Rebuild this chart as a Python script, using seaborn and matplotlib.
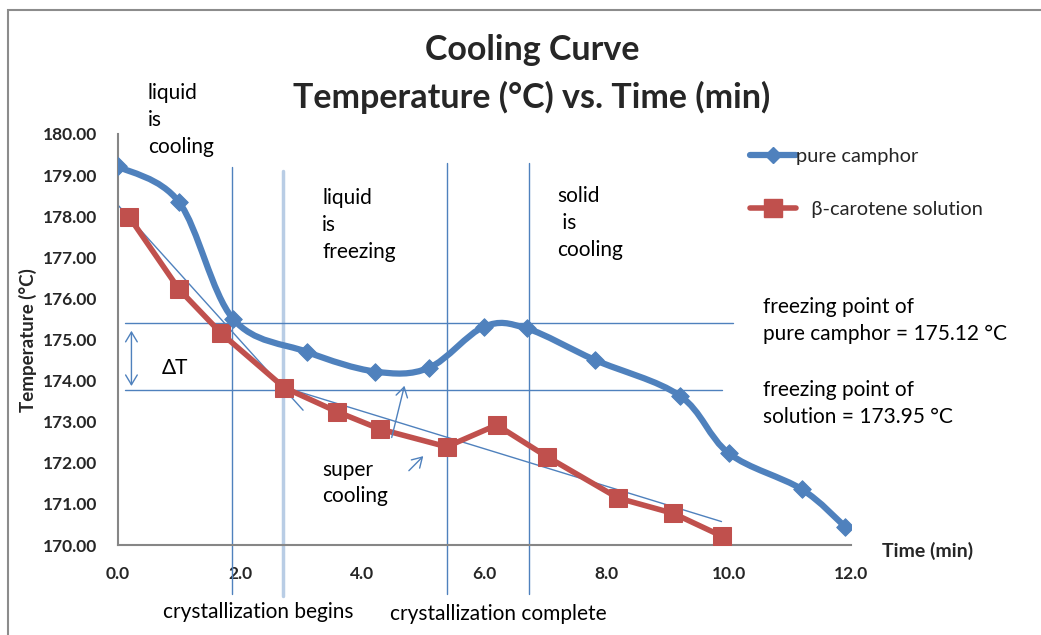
import numpy as np
import pandas as pd
import matplotlib
matplotlib.use("Agg")
import matplotlib.pyplot as plt
import seaborn as sns
from matplotlib.path import Path
from matplotlib.patches import PathPatch, Rectangle
from matplotlib.lines import Line2D

# Data
camphor_time = [0.0, 1.0, 1.88, 3.09, 4.21, 5.09, 5.99, 6.69, 7.81, 9.20, 10.0, 11.19, 11.90]
camphor_temp = [179.21, 178.34, 175.51, 174.70, 174.22, 174.31, 175.31, 175.27, 174.50, 173.63, 172.23, 171.36, 170.45]

carotene_time = [0.18, 1.0, 1.69, 2.72, 3.59, 4.29, 5.38, 6.20, 7.02, 8.19, 9.09, 9.88]
carotene_temp = [177.99, 176.22, 175.15, 173.83, 173.24, 172.82, 172.39, 172.92, 172.15, 171.14, 170.77, 170.22]

# guide lines drawn on the chart
fp_camphor_line = 175.40
fp_solution_line = 173.77
region_lines = [1.87, 5.39, 6.73]
crystal_start = 2.70
tangent_a = ([0.0, 3.03], [178.27, 173.28])
tangent_b = ([2.65, 9.88], [173.87, 170.57])

BLUE = "#4F81BD"
RED = "#C0504D"
LIGHT = "#B9CDE5"
GREY = "#868686"

sns.set_style("white")
plt.rcParams["font.family"] = ["Lato", "DejaVu Sans"]

fig = plt.figure(figsize=(10.41, 6.35), dpi=100)
ax = fig.add_axes([118 / 1041, 1 - 545 / 635, 733 / 1041, 411 / 635])

# outer chart frame (only top and left edges fall inside the picture)
fig.patches.append(Rectangle((8 / 1041, -0.1), 1.2, 1 - 10 / 635 + 0.1, transform=fig.transFigure,
                             fill=False, edgecolor="#8c8c8c", lw=1.5))


def smooth_path(xs, ys):
    # Bezier segments like a spreadsheet "smoothed line"
    pts = np.column_stack([xs, ys])
    verts = [pts[0]]
    codes = [Path.MOVETO]
    n = len(pts)
    for i in range(n - 1):
        p0 = pts[i - 1] if i > 0 else pts[i]
        p1, p2 = pts[i], pts[i + 1]
        p3 = pts[i + 2] if i + 2 < n else pts[i + 1]
        verts += [p1 + (p2 - p0) / 6, p2 - (p3 - p1) / 6, p2]
        codes += [Path.CURVE4] * 3
    return Path(verts, codes)


# guide lines
for xv in region_lines:
    ax.plot([xv, xv], [179.2 if xv < 3 else 179.3, 168.8], color=BLUE, lw=1, clip_on=False, zorder=1)
ax.plot([crystal_start, crystal_start], [179.1, 168.75], color=LIGHT, lw=2.5, clip_on=False, zorder=1)
ax.plot([0.11, 10.07], [fp_camphor_line] * 2, color=BLUE, lw=1, zorder=1)
ax.plot([0.11, 9.89], [fp_solution_line] * 2, color=BLUE, lw=1, zorder=1)
ax.plot(*tangent_a, color=BLUE, lw=1, zorder=1)
ax.plot(*tangent_b, color=BLUE, lw=1, zorder=1)

# series
df_c = pd.DataFrame({"time": camphor_time, "temp": camphor_temp})
df_b = pd.DataFrame({"time": carotene_time, "temp": carotene_temp})

ax.add_patch(PathPatch(smooth_path(camphor_time, camphor_temp), fill=False,
                       edgecolor=BLUE, lw=4.5, zorder=3, capstyle="round", joinstyle="round"))
sns.scatterplot(data=df_c, x="time", y="temp", marker="D", s=80, color=BLUE,
                edgecolor=BLUE, ax=ax, zorder=4)
sns.lineplot(data=df_b, x="time", y="temp", color=RED, lw=4, marker="s", markersize=13,
             markeredgecolor=RED, ax=ax, zorder=3, sort=False)

# arrows
arrow_kw = dict(color=BLUE, lw=1, mutation_scale=14)
ax.annotate("", xy=(0.22, 175.28), xytext=(0.22, 173.80),
            arrowprops=dict(arrowstyle="<->,head_length=0.5,head_width=0.3", **arrow_kw))
ax.annotate("", xy=(4.70, 173.94), xytext=(4.47, 172.55),
            arrowprops=dict(arrowstyle="->,head_length=0.5,head_width=0.3", **arrow_kw))
ax.annotate("", xy=(5.03, 172.21), xytext=(4.73, 171.76),
            arrowprops=dict(arrowstyle="->,head_length=0.5,head_width=0.3", **arrow_kw))

ax.set_xlim(0, 12)
ax.set_ylim(170, 180)
ax.set_xticks(np.arange(0, 12.1, 2))
ax.set_xticklabels([f"{v:.1f}" for v in np.arange(0, 12.1, 2)])
ax.set_yticks(np.arange(170, 180.1, 1))
ax.set_yticklabels([f"{v:.2f}" for v in np.arange(170, 180.1, 1)])
ax.tick_params(axis="both", length=5, width=1, color=GREY, labelsize=12.5, direction="out")
ax.tick_params(axis="x", pad=10)
ax.tick_params(axis="y", pad=10)
for lab in ax.get_xticklabels() + ax.get_yticklabels():
    lab.set_fontweight("bold")
for side in ["top", "right"]:
    ax.spines[side].set_visible(False)
for side in ["left", "bottom"]:
    ax.spines[side].set_color(GREY)
    ax.spines[side].set_linewidth(1.5)
ax.set_xlabel("")
ax.set_ylabel("")

# annotations
txt = dict(fontsize=15, color="black", clip_on=False, linespacing=1.42)
ax.text(0.49, 180.34, "liquid\nis\ncooling", va="center", ha="left", **txt)
ax.text(3.34, 177.79, "liquid\nis\nfreezing", va="center", ha="left", **txt)
ax.text(7.19, 177.83, "solid\n is\ncooling", va="center", ha="left", **txt)
ax.text(3.34, 171.51, "super\ncooling", va="center", ha="left", **txt)
ax.text(10.56, 175.47, "freezing point of\npure camphor = 175.12 °C", va="center", ha="left", **txt)
ax.text(10.56, 173.45, "freezing point of\nsolution = 173.95 °C", va="center", ha="left", **txt)
ax.text(0.72, 174.31, "ΔT", va="center", ha="left", **txt)
ax.text(2.29, 168.37, "crystallization begins", va="center", ha="center", **txt)
ax.text(6.22, 168.32, "crystallization complete", va="center", ha="center", **txt)
ax.text(12.51, 169.85, "Time (min)", va="center", ha="left", fontsize=14, fontweight="bold", clip_on=False)

fig.text(28 / 1041, 1 - 340 / 635, "Temperature (°C)", rotation=90, va="center", ha="center",
         fontsize=13.5, fontweight="bold")
fig.text(532 / 1041, 1 - 50 / 635, "Cooling Curve", ha="center", va="center", fontsize=24.5, fontweight="bold")
fig.text(532 / 1041, 1 - 97 / 635, "Temperature (°C) vs. Time (min)", ha="center", va="center",
         fontsize=24.5, fontweight="bold")

# legend
handles = [
    Line2D([], [], color=BLUE, lw=4.5, marker="D", markersize=8),
    Line2D([], [], color=RED, lw=4, marker="s", markersize=13),
]
ax.legend(handles, ["pure camphor", "   β-carotene solution"], loc="upper left",
          bbox_to_anchor=(744 / 1041, 1 - 142 / 635), bbox_transform=fig.transFigure,
          frameon=False, fontsize=14.4, handlelength=2.3, handletextpad=0.0, labelspacing=1.8,
          borderpad=0.3, borderaxespad=0)

fig.savefig("out.png", dpi=100)
